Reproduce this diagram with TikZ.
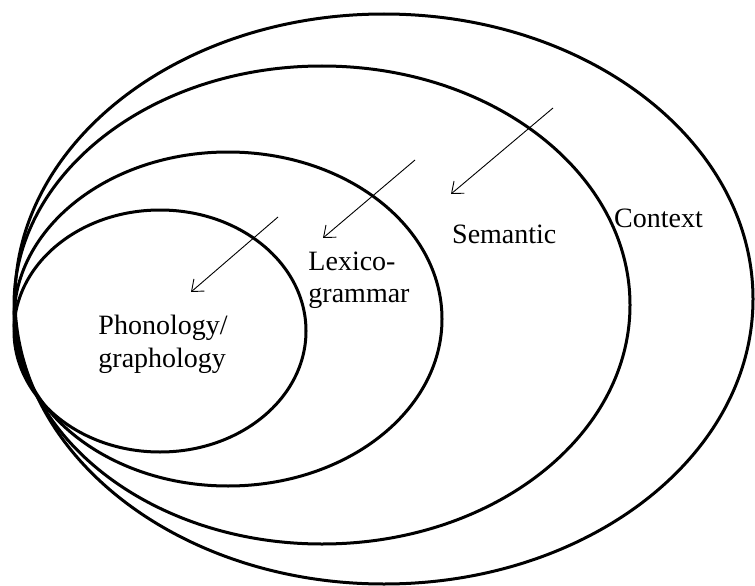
\documentclass[tikz,border=0pt]{standalone}
\usepackage{fontspec}
\setmainfont{Liberation Serif}
\usetikzlibrary{arrows.meta}
\begin{document}
\begin{tikzpicture}[x=1pt,y=-1pt,
  ring/.style={line width=3pt},
  pointer/.style={line width=0.9pt,-{Straight Barb[length=10pt,width=16pt,line width=0.9pt]}},
  label/.style={inner sep=0pt,font=\fontsize{28}{32.5}\selectfont,align=left}]
\useasboundingbox (0,0) rectangle (755,586);
\draw[ring] (384,299) ellipse [x radius=369pt, y radius=285pt];
\draw[ring] (322,305) ellipse [x radius=308pt, y radius=239pt];
\draw[ring] (228,319) ellipse [x radius=214pt, y radius=167pt];
\draw[ring] (160,331) ellipse [x radius=146pt, y radius=121pt];
\node[label,anchor=base west] (ctx) at (614,227) {Context};
\node[label,anchor=base west] (sem) at (452,243) {Semantic};
\node[label] (lex) at (359,280) {Lexico-\\grammar};
\node[label] (pho) at (163,344.5) {Phonology/\\graphology};
\coordinate (a1s) at (553,108); \coordinate (a1e) at (451,194);
\coordinate (a2s) at (415,160); \coordinate (a2e) at (323,238);
\coordinate (a3s) at (278,217); \coordinate (a3e) at (191,292);
\draw[pointer] (a1s) -- (a1e);
\draw[pointer] (a2s) -- (a2e);
\draw[pointer] (a3s) -- (a3e);
\end{tikzpicture}
\end{document}
